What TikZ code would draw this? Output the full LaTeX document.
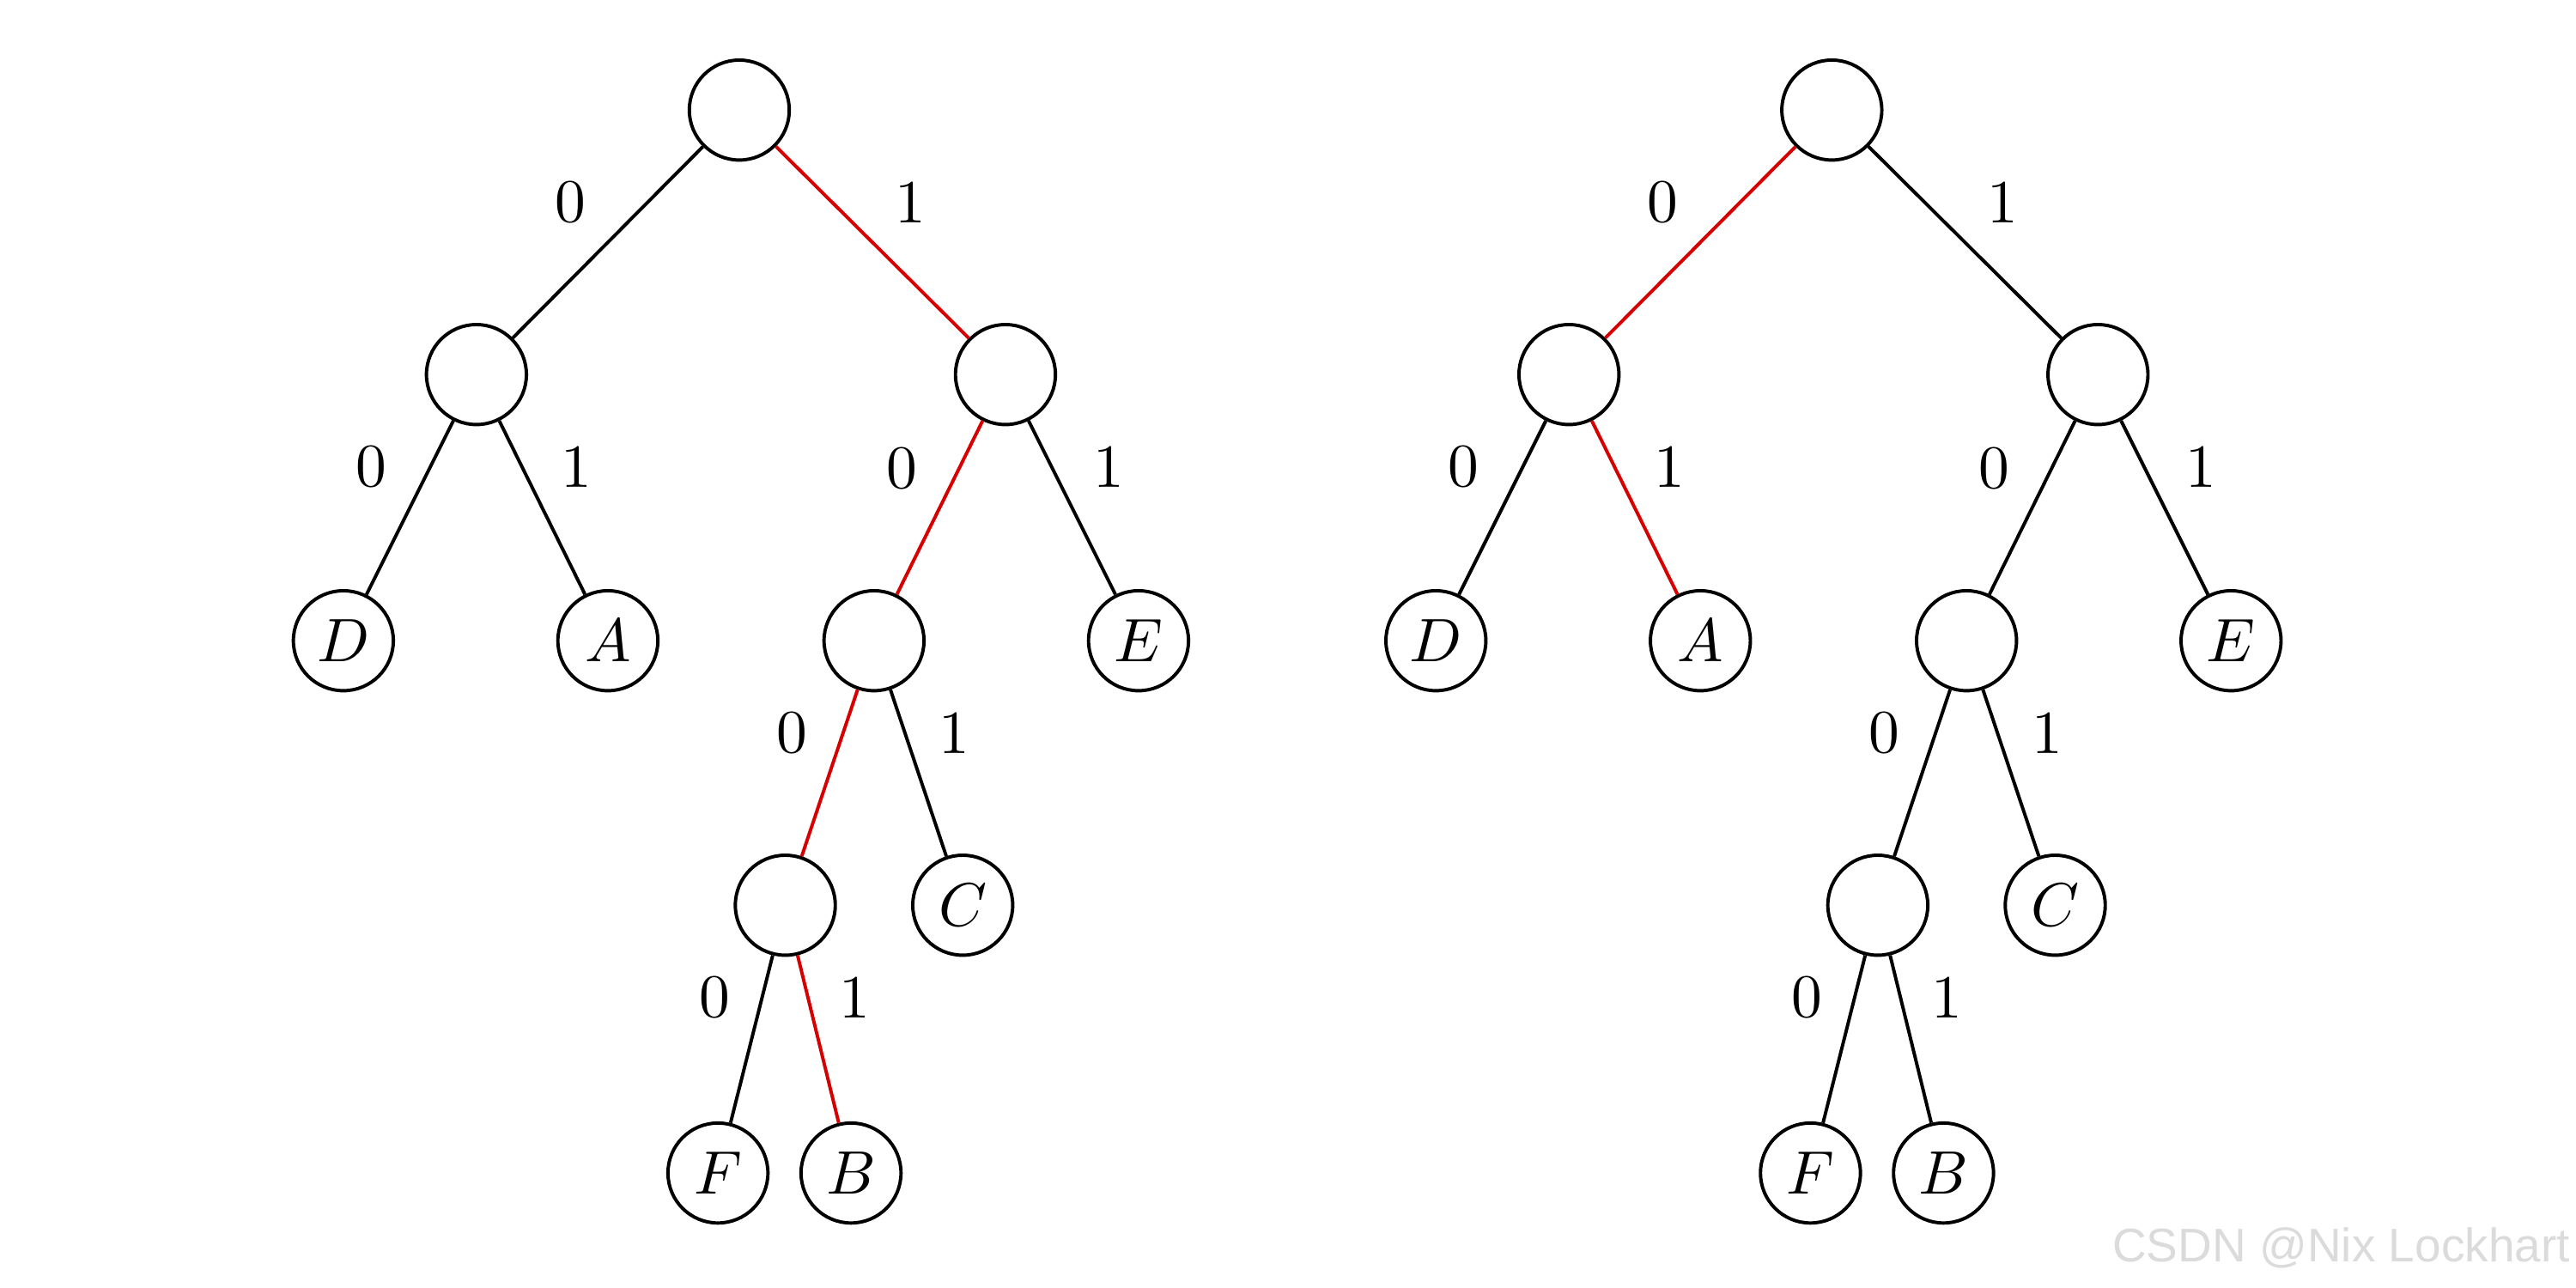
\documentclass[tikz,border=0pt]{standalone}
\usepackage{fontspec}
\newfontfamily\wmfont{Liberation Sans}
\begin{document}
\begin{tikzpicture}[x=0.26786pt,y=-0.26786pt,
  nd/.style={circle,draw,line width=0.55pt,minimum size=16.3pt,inner sep=0pt},
  ed/.style={line width=0.55pt},
  hl/.style={ed,draw={rgb,255:red,215;green,0;blue,0}},
  lb/.style={inner sep=0pt}]
\useasboundingbox (0,0) rectangle (1568,784);
% ---------- left tree ----------
\node[nd] (Lr)   at (450,67)  {};
\node[nd] (L0)   at (290,228) {};
\node[nd] (L1)   at (612,228) {};
\node[nd] (LD)   at (209,390) {$D$};
\node[nd] (LA)   at (370,390) {$A$};
\node[nd] (L10)  at (532,390) {};
\node[nd] (LE)   at (693,390) {$E$};
\node[nd] (L100) at (478,551) {};
\node[nd] (LC)   at (586,551) {$C$};
\node[nd] (LF)   at (437,714) {$F$};
\node[nd] (LB)   at (518,714) {$B$};
\draw[ed] (Lr) -- (L0);
\draw[hl] (Lr) -- (L1);
\draw[ed] (L0) -- (LD);
\draw[ed] (L0) -- (LA);
\draw[hl] (L1) -- (L10);
\draw[ed] (L1) -- (LE);
\draw[hl] (L10) -- (L100);
\draw[ed] (L10) -- (LC);
\draw[ed] (L100) -- (LF);
\draw[hl] (L100) -- (LB);
\node[lb] (Ll1) at (347,123) {0};
\node[lb] (Ll2) at (554,123) {1};
\node[lb] (Ll3) at (226,284) {0};
\node[lb] (Ll4) at (351,284) {1};
\node[lb] (Ll5) at (549,285) {0};
\node[lb] (Ll6) at (675,284) {1};
\node[lb] (Ll7) at (482,446) {0};
\node[lb] (Ll8) at (581,446) {1};
\node[lb] (Ll9) at (435,607) {0};
\node[lb] (Ll10) at (520,607) {1};
% ---------- right tree ----------
\node[nd] (Rr)   at (1115,67)  {};
\node[nd] (R0)   at (955,228) {};
\node[nd] (R1)   at (1277,228) {};
\node[nd] (RD)   at (874,390) {$D$};
\node[nd] (RA)   at (1035,390) {$A$};
\node[nd] (R10)  at (1197,390) {};
\node[nd] (RE)   at (1358,390) {$E$};
\node[nd] (R100) at (1143,551) {};
\node[nd] (RC)   at (1251,551) {$C$};
\node[nd] (RF)   at (1102,714) {$F$};
\node[nd] (RB)   at (1183,714) {$B$};
\draw[hl] (Rr) -- (R0);
\draw[ed] (Rr) -- (R1);
\draw[ed] (R0) -- (RD);
\draw[hl] (R0) -- (RA);
\draw[ed] (R1) -- (R10);
\draw[ed] (R1) -- (RE);
\draw[ed] (R10) -- (R100);
\draw[ed] (R10) -- (RC);
\draw[ed] (R100) -- (RF);
\draw[ed] (R100) -- (RB);
\node[lb] (Rl1) at (1012,123) {0};
\node[lb] (Rl2) at (1219,123) {1};
\node[lb] (Rl3) at (891,284) {0};
\node[lb] (Rl4) at (1016,284) {1};
\node[lb] (Rl5) at (1214,285) {0};
\node[lb] (Rl6) at (1340,284) {1};
\node[lb] (Rl7) at (1147,446) {0};
\node[lb] (Rl8) at (1246,446) {1};
\node[lb] (Rl9) at (1100,607) {0};
\node[lb] (Rl10) at (1185,607) {1};
% ---------- watermark ----------
\node[anchor=base east,inner sep=0pt,text=black!14,font=\wmfont\fontsize{7.7pt}{9pt}\selectfont] (wm) at (1565,768) {CSDN @Nix Lockhart};
\end{tikzpicture}
\end{document}
